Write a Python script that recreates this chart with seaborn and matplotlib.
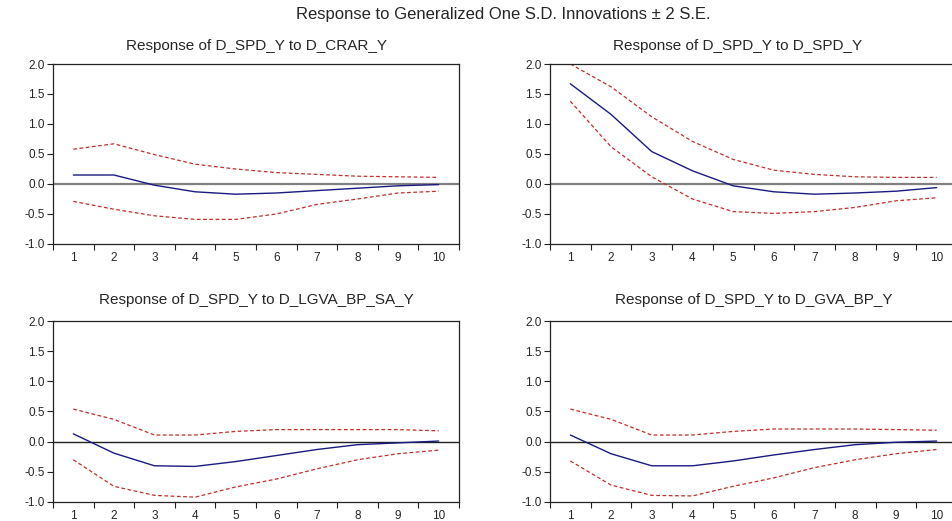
import matplotlib
matplotlib.use("Agg")
import matplotlib.pyplot as plt
import seaborn as sns
import pandas as pd
import numpy as np

sns.set_style("white")
plt.rcParams['font.family'] = ['Liberation Sans', 'DejaVu Sans']

periods = [1, 2, 3, 4, 5, 6, 7, 8, 9, 10]

crar_resp = [0.15, 0.15, -0.02, -0.13, -0.17, -0.15, -0.11, -0.07, -0.03, -0.01]
crar_up = [0.58, 0.67, 0.49, 0.33, 0.25, 0.19, 0.16, 0.13, 0.12, 0.11]
crar_lo = [-0.29, -0.42, -0.53, -0.59, -0.59, -0.5, -0.34, -0.25, -0.15, -0.12]

spd_resp = [1.67, 1.16, 0.54, 0.22, -0.03, -0.13, -0.17, -0.15, -0.12, -0.06]
spd_up = [2.0, 1.62, 1.12, 0.71, 0.41, 0.23, 0.16, 0.12, 0.11, 0.11]
spd_lo = [1.38, 0.62, 0.12, -0.25, -0.46, -0.49, -0.46, -0.39, -0.28, -0.23]

lgva_resp = [0.13, -0.19, -0.4, -0.41, -0.33, -0.23, -0.13, -0.05, -0.02, 0.01]
lgva_up = [0.54, 0.37, 0.11, 0.11, 0.17, 0.2, 0.2, 0.2, 0.2, 0.18]
lgva_lo = [-0.3, -0.74, -0.89, -0.92, -0.75, -0.62, -0.45, -0.3, -0.2, -0.14]

gva_resp = [0.11, -0.2, -0.4, -0.4, -0.32, -0.22, -0.13, -0.05, -0.01, 0.01]
gva_up = [0.54, 0.37, 0.11, 0.11, 0.17, 0.21, 0.21, 0.21, 0.2, 0.19]
gva_lo = [-0.32, -0.72, -0.89, -0.9, -0.74, -0.6, -0.43, -0.3, -0.2, -0.13]

titles = ["Response of D_SPD_Y to D_CRAR_Y", "Response of D_SPD_Y to D_SPD_Y",
          "Response of D_SPD_Y to D_LGVA_BP_SA_Y", "Response of D_SPD_Y to D_GVA_BP_Y"]
panels = [(crar_resp, crar_up, crar_lo), (spd_resp, spd_up, spd_lo),
          (lgva_resp, lgva_up, lgva_lo), (gva_resp, gva_up, gva_lo)]
yticks = [-1.0, -0.5, 0.0, 0.5, 1.0, 1.5, 2.0]

W, H = 952, 521
fig = plt.figure(figsize=(W / 100, H / 100), dpi=100)

# axes boxes in pixels: left, top, right, bottom
boxes = [(53, 64, 459, 244), (550, 64, 957, 244),
         (53, 321, 459, 502), (550, 321, 957, 502)]
zero_colors = ["#808080", "#808080", "#222222", "#222222"]
zero_widths = [1.6, 1.6, 1.0, 1.0]
title_pads = [10, 10, 12, 12]
title_x = [0.5, 0.46, 0.5, 0.5]

for i, (box, title, (resp, up, lo)) in enumerate(zip(boxes, titles, panels)):
    l, t, r, b = box
    ax = fig.add_axes([l / W, 1 - b / H, (r - l) / W, (b - t) / H])
    df = pd.DataFrame({"period": periods, "resp": resp, "up": up, "lo": lo})
    ax.axhline(0, color=zero_colors[i], lw=zero_widths[i], zorder=1)
    sns.lineplot(data=df, x="period", y="up", ax=ax, color="#c0302a", lw=0.9,
                 linestyle=(0, (3, 2)))
    sns.lineplot(data=df, x="period", y="lo", ax=ax, color="#c0302a", lw=0.9,
                 linestyle=(0, (3, 2)))
    sns.lineplot(data=df, x="period", y="resp", ax=ax, color="#1a1a80", lw=1.0)
    ax.set_xlim(0.5, 10.5)
    ax.set_ylim(-1.0, 2.0)
    ax.set_yticks(yticks)
    ax.set_yticklabels([f"{v:.1f}" for v in yticks], fontsize=8.5)
    ax.set_xticks(periods)
    ax.set_xticklabels([str(p) for p in periods], fontsize=8.5)
    ax.set_xticks(np.arange(0.5, 11, 1.0), minor=True)
    ax.tick_params(axis="x", which="major", length=0, pad=6)
    ax.tick_params(axis="x", which="minor", length=4, width=0.8, direction="out",
                   bottom=True, color="#222222")
    ax.tick_params(axis="y", which="major", length=4, width=0.8, direction="out",
                   left=True, color="#222222", pad=2)
    ax.set_xlabel("")
    ax.set_ylabel("")
    for s in ax.spines.values():
        s.set_color("#222222")
        s.set_linewidth(0.9)
    ax.set_title(title, fontsize=11, pad=title_pads[i], x=title_x[i])

fig.text(503 / W, 1 - 14 / H, "Response to Generalized One S.D. Innovations \u00b1 2 S.E.",
         ha="center", va="center", fontsize=12)

fig.savefig("out.png", dpi=100)
